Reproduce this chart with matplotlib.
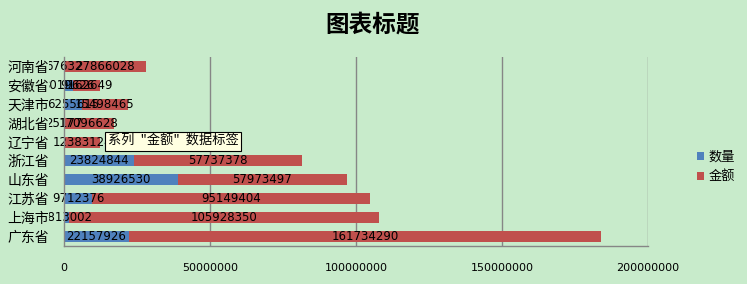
import matplotlib
matplotlib.use('Agg')
import matplotlib.pyplot as plt
import numpy as np

categories = ['广东省', '上海市', '江苏省', '山东省', '浙江省', '辽宁省', '湖北省', '天津市', '安徽省', '河南省']
quantity = [22157926, 1813002, 9712376, 38926530, 23824844, 0, 25177, 6255615, 3019626, 67632]
amount = [161734290, 105928350, 95149404, 57973497, 57737378, 12383124, 17096628, 15498465, 9162649, 27866028]
series_names = ['数量', '金额']
xticks = [0, 50000000, 100000000, 150000000, 200000000]
title = '图表标题'
tooltip = '系列 "金额" 数据标签'

plt.rcParams['font.family'] = ['DejaVu Sans', 'Noto Sans CJK SC']
bg = '#C8EBCB'
blue = '#4F81BD'
red = '#C0504D'
grid = '#868686'

W, H = 747, 284
fig = plt.figure(figsize=(W / 100, H / 100), dpi=100, facecolor=bg)
left, right, top, bottom = 64, 648, 57, 246
ax = fig.add_axes([left / W, 1 - bottom / H, (right - left) / W, (bottom - top) / H])
ax.set_facecolor(bg)
ax.set_axisbelow(False)

y = np.arange(len(categories))
bh = 0.58
b1 = ax.barh(y, quantity, height=bh, color=blue, zorder=1, label=series_names[0])
b2 = ax.barh(y, amount, left=quantity, height=bh, color=red, zorder=1, label=series_names[1])
for xv in xticks[1:]:
    ax.axvline(xv, color=grid, lw=1, zorder=0.5)

for i in range(len(categories)):
    q, a = quantity[i], amount[i]
    if q > 0:
        ax.text(q / 2, y[i], str(q), ha='center', va='center', fontsize=8.5,
                color='black', zorder=2, clip_on=False)
    ax.text(q + a / 2, y[i], str(a), ha='center', va='center', fontsize=8.5,
            color='black', zorder=2, clip_on=False)

ax.set_xlim(xticks[0], xticks[-1])
ax.set_ylim(-0.5, len(categories) - 0.5)
ax.set_xticks(xticks)
ax.set_xticklabels([str(t) for t in xticks], fontsize=8)
ax.set_yticks(y)
ax.set_yticklabels(categories, fontsize=10)
ax.tick_params(axis='x', length=0, pad=12)
ax.tick_params(axis='y', length=0, pad=11)
for lbl in ax.get_yticklabels():
    lbl.set_bbox(dict(facecolor=bg, edgecolor='none', pad=0.3))

for s in ['top', 'right']:
    ax.spines[s].set_visible(False)
for s in ['left', 'bottom']:
    ax.spines[s].set_color(grid)
    ax.spines[s].set_linewidth(1)

fig.text(373 / W, 1 - 25 / H, title, fontsize=17, ha='center', va='center',
         weight='bold', family=['Noto Sans CJK SC', 'DejaVu Sans'])

fig.legend(handles=[b1, b2], labels=series_names, loc='center left',
           bbox_to_anchor=(697 / W, 1 - 167 / H), frameon=False, fontsize=9.5,
           handlelength=0.55, handleheight=0.55, handletextpad=0.3, labelspacing=0.5,
           borderaxespad=0, borderpad=0)

fig.text(108 / W, 1 - 141.5 / H, tooltip.replace(' ', '  '), fontsize=9.5, ha='left', va='center',
         family=['Noto Sans CJK SC', 'DejaVu Sans'],
         bbox=dict(boxstyle='square,pad=0.2', facecolor='#FFFFE1', edgecolor='black', lw=0.8),
         zorder=10)

fig.savefig('out.png', dpi=100, facecolor=bg)
